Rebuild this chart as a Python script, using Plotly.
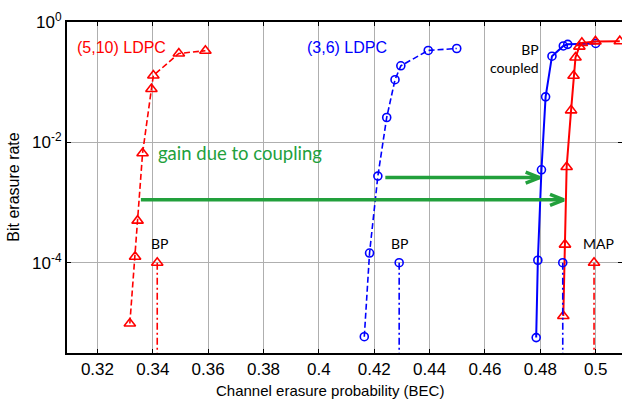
import math
import plotly.graph_objects as go

# ---- data ----
ldpc510_x = [0.3317, 0.3336, 0.3345, 0.3363, 0.3395, 0.3402, 0.3494, 0.359]
ldpc510_y = [9.8e-6, 1.26e-4, 5.0e-4, 6.6e-3, 0.077, 0.129, 0.30, 0.333]

ldpc36_x = [0.4164, 0.4183, 0.4213, 0.4245, 0.4275, 0.4296, 0.4395, 0.4498]
ldpc36_y = [5.9e-6, 1.45e-4, 2.75e-3, 0.0259, 0.11, 0.187, 0.337, 0.363]

coupled36_x = [0.4785, 0.4791, 0.4804, 0.4819, 0.4842, 0.4883, 0.4899, 0.5000]
coupled36_y = [5.7e-6, 1.1e-4, 3.5e-3, 0.057, 0.27, 0.40, 0.425, 0.44]

coupled510_x = [0.4883, 0.4889, 0.4895, 0.4911, 0.4920, 0.4927, 0.4941, 0.4950, 0.4999, 0.5087]
coupled510_y = [1.3e-5, 2.0e-4, 3.9e-3, 0.034, 0.128, 0.257, 0.39, 0.45, 0.476, 0.48]

# thresholds
bp510_thr = 0.3416
bp36_thr = 0.4290
map36_thr = 0.4881
map510_thr = 0.4994
thr_y = [1e-4, 1e-6]

# gain arrows: start x, end x, y
arrow_upper = [0.4240, 0.4797, 0.0026]
arrow_lower = [0.3357, 0.4885, 0.00111]

xticks = [0.32, 0.34, 0.36, 0.38, 0.40, 0.42, 0.44, 0.46, 0.48, 0.50]
xticktext = ["0.32", "0.34", "0.36", "0.38", "0.4", "0.42", "0.44", "0.46", "0.48", "0.5"]
yticks = [1, 1e-2, 1e-4]
yticktext = ["10<sup>0</sup>", "10<sup>-2</sup>", "10<sup>-4</sup>"]

RED = "#ff0000"
BLUE = "#0000ff"
GREEN = "#22a03c"
DASH = "6px,3px"
DASHDOT = "7px,3px,2px,3px"

fig = go.Figure()

fig.add_trace(go.Scatter(x=ldpc510_x, y=ldpc510_y, mode="lines+markers",
                         line=dict(color=RED, width=1.6, dash=DASH),
                         marker=dict(symbol="triangle-up-open", size=10, color=RED,
                                     line=dict(width=1.6))))
fig.add_trace(go.Scatter(x=ldpc36_x, y=ldpc36_y, mode="lines+markers",
                         line=dict(color=BLUE, width=1.6, dash=DASH),
                         marker=dict(symbol="circle-open", size=8, color=BLUE,
                                     line=dict(width=1.6))))
fig.add_trace(go.Scatter(x=coupled36_x, y=coupled36_y, mode="lines+markers",
                         line=dict(color=BLUE, width=2),
                         marker=dict(symbol="circle-open", size=8, color=BLUE,
                                     line=dict(width=1.6))))
fig.add_trace(go.Scatter(x=coupled510_x, y=coupled510_y, mode="lines+markers",
                         line=dict(color=RED, width=2),
                         marker=dict(symbol="triangle-up-open", size=10, color=RED,
                                     line=dict(width=1.6))))

for thr, col, sym, sz in [(bp510_thr, RED, "triangle-up-open", 10),
                          (bp36_thr, BLUE, "circle-open", 8),
                          (map36_thr, BLUE, "circle-open", 8),
                          (map510_thr, RED, "triangle-up-open", 10)]:
    fig.add_trace(go.Scatter(x=[thr, thr], y=thr_y, mode="lines",
                             line=dict(color=col, width=1.6, dash=DASHDOT)))
    fig.add_trace(go.Scatter(x=[thr], y=thr_y[:1], mode="markers",
                             marker=dict(symbol=sym, size=sz, color=col,
                                         line=dict(width=1.6, color=col))))

# green arrows with open chevron heads
head_dx = 0.005
head_dy = 10 ** 0.092
for xs, xe, ya in [arrow_upper, arrow_lower]:
    fig.add_trace(go.Scatter(x=[xs, xe], y=[ya, ya], mode="lines",
                             line=dict(color=GREEN, width=3.5)))
    fig.add_trace(go.Scatter(x=[xe - head_dx, xe, xe - head_dx],
                             y=[ya * head_dy, ya, ya / head_dy], mode="lines",
                             line=dict(color=GREEN, width=3.5)))

ann_font = "Lato, 'Open Sans', sans-serif"
arial = "Liberation Sans, Arial, sans-serif"
annotations = [
    dict(x=0.3119, y=10 ** -0.43, text="(5,10) LDPC", xanchor="left", font=dict(color=RED, size=16, family=arial)),
    dict(x=0.3948, y=10 ** -0.43, text="(3,6) LDPC", xanchor="left", font=dict(color=BLUE, size=16, family=arial)),
    dict(x=0.3410, y=10 ** -2.18, text="gain due to coupling", xanchor="left", font=dict(color=GREEN, size=18.5, family=ann_font)),
    dict(x=0.3424, y=10 ** -3.68, text="BP", font=dict(color="black", size=14, family=ann_font)),
    dict(x=0.4290, y=10 ** -3.68, text="BP", font=dict(color="black", size=14, family=ann_font)),
    dict(x=0.5011, y=10 ** -3.68, text="MAP", font=dict(color="black", size=14, family=ann_font)),
    dict(x=0.4801, y=10 ** -0.6, text="BP<br>coupled", align="right", xanchor="right",
         font=dict(color="black", size=14, family=ann_font)),
]
for a in annotations:
    a.setdefault("xanchor", "center")
    yv = a.pop("y")
    fig.add_annotation(xref="x", yref="y", showarrow=False, yanchor="middle",
                       y=math.log10(yv), **a)

# axis titles
fig.add_annotation(xref="paper", yref="paper", x=0.473, y=-0.112, yanchor="middle",
                   text="Channel erasure probability (BEC)", showarrow=False,
                   font=dict(size=15, family=arial))
fig.add_annotation(xref="paper", yref="paper", x=-0.097, y=0.5, xanchor="center",
                   yanchor="middle", text="Bit erasure rate", showarrow=False, textangle=-90,
                   font=dict(size=16, family=arial))

fig.update_layout(
    width=622, height=402,
    margin=dict(l=67, r=0, t=22, b=49),
    paper_bgcolor="white", plot_bgcolor="white",
    showlegend=False,
    font=dict(family=arial, size=17, color="black"),
    xaxis=dict(range=[0.309, 0.5095], tickvals=xticks, ticktext=xticktext, automargin=False,
               showgrid=True, gridcolor="rgb(175,175,175)", gridwidth=1,
               showline=True, linecolor="black", linewidth=2, mirror="ticks",
               ticks="inside", ticklen=4, tickcolor="black", zeroline=False),
    yaxis=dict(type="log", range=[-5.5, 0], tickvals=yticks, ticktext=yticktext, automargin=False,
               showgrid=True, gridcolor="rgb(175,175,175)", gridwidth=1,
               showline=True, linecolor="black", linewidth=2, mirror="ticks",
               ticks="inside", ticklen=4, tickcolor="black", zeroline=False),
)

fig.write_html("out.html", config={"displayModeBar": False},
               post_script="document.body.style.margin='0';document.body.style.padding='0';"
                           "document.documentElement.style.overflow='hidden';")
